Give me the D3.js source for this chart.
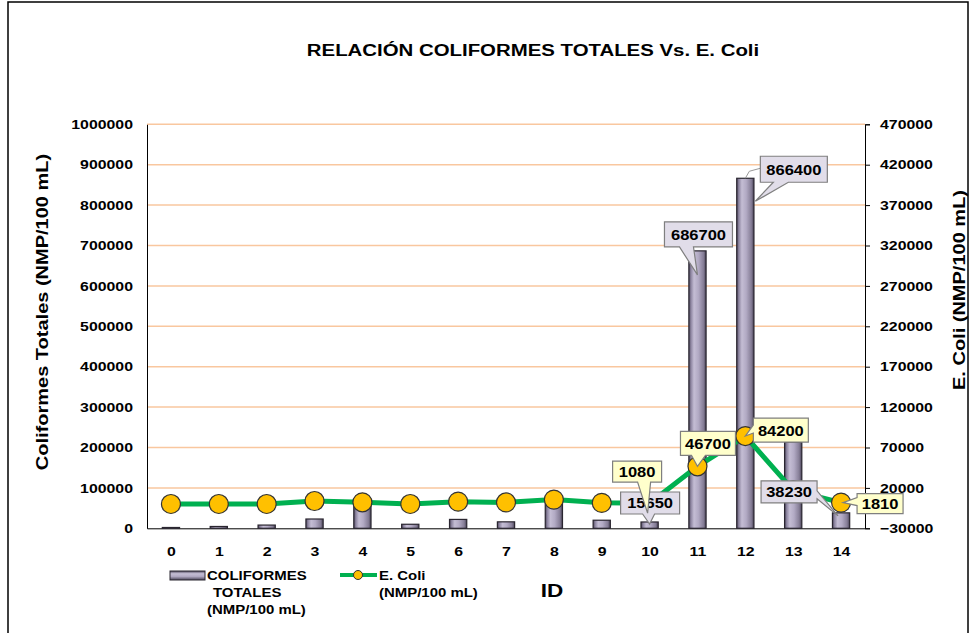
<!DOCTYPE html>
<html lang="es">
<head>
  <meta charset="UTF-8">
  <title>Relación Coliformes Totales Vs. E. Coli</title>
  <script src="https://d3js.org/d3.v7.min.js"></script>
  <style>
    body { margin: 0; padding: 0; background: #fff; }
    svg { display: block; font-family: 'Liberation Sans', Arial, sans-serif; font-weight: bold; }
  </style>
</head>
<body>
  <svg id="chart" width="972" height="633"></svg>
  <script>
    // datos
    const ids = [0, 1, 2, 3, 4, 5, 6, 7, 8, 9, 10, 11, 12, 13, 14];
    const coliformes = [2000, 4500, 8000, 23000, 65000, 10000, 22000, 16000, 70000, 20000, 15650, 686700, 866400, 214000, 38230];
    const eColi = [100, 100, 100, 3800, 2200, 100, 3000, 2000, 5500, 1500, 1080, 46700, 84200, 17000, 1810];
    const leftTicks = [0, 100000, 200000, 300000, 400000, 500000, 600000, 700000, 800000, 900000, 1000000];
    const rightTicks = [-30000, 20000, 70000, 120000, 170000, 220000, 270000, 320000, 370000, 420000, 470000];

    // etiquetas de datos visibles: indice, caja relativa al punto, cuña
    const calloutsC = [
      { i: 11, dx: -33, dy: -29, w: 68, h: 25, side: 'bottom', a: 15, b: 29, tx: 0, ty: 24 },
      { i: 12, dx: 15, dy: -22, w: 67, h: 26, side: 'bottom', a: 13, b: 28, tx: 10, ty: 23 },
      { i: 10, dx: -29, dy: -30, w: 59, h: 22, side: 'bottom', a: 22, b: 34, tx: 0, ty: 2 },
      { i: 14, dx: -80, dy: -32, w: 56, h: 22, side: 'right', a: 10, b: 18, tx: -3, ty: 3 }
    ];
    const calloutsE = [
      { i: 11, dx: -17, dy: -35, w: 55, h: 24, side: 'bottom', a: 11, b: 25, tx: 0, ty: 0 },
      { i: 12, dx: 8, dy: -18, w: 55, h: 24, side: 'left', a: 7, b: 15, tx: 0, ty: 0 },
      { i: 10, dx: -37, dy: -42, w: 49, h: 21, side: 'bottom', a: 25, b: 38, tx: -2, ty: 10 },
      { i: 14, dx: 16, dy: -9, w: 46, h: 20, side: 'left', a: 4, b: 12, tx: 2, ty: 0 }
    ];

    const SX = 1.22; // las letras del original salen mas anchas
    const svg = d3.select('#chart');
    const plotL = 147, plotR = 865, plotT = 124.3, plotB = 528.3;

    const x = d3.scalePoint().domain(ids).range([plotL, plotR]).padding(0.5);
    const yL = d3.scaleLinear().domain([0, 1000000]).range([plotB, plotT]);
    const yR = d3.scaleLinear().domain([-30000, 470000]).range([plotB, plotT]);
    const barW = x.step() * 0.36;

    const defs = svg.append('defs');
    const g1 = defs.append('linearGradient').attr('id', 'barGrad');
    [[0, '#4f485e'], [0.12, '#8d85a0'], [0.3, '#c4bdd4'], [0.55, '#b2aac4'], [0.85, '#857d96'], [1, '#4a4458']]
      .forEach(s => g1.append('stop').attr('offset', s[0]).attr('stop-color', s[1]));
    const g2 = defs.append('linearGradient').attr('id', 'barGradV')
      .attr('x1', 0).attr('y1', 0).attr('x2', 0).attr('y2', 1);
    [[0, '#4f485e'], [0.3, '#c4bdd4'], [0.6, '#b2aac4'], [1, '#4a4458']]
      .forEach(s => g2.append('stop').attr('offset', s[0]).attr('stop-color', s[1]));

    // marco
    svg.append('rect').attr('x', 8).attr('y', 2).attr('width', 960).attr('height', 660)
      .attr('fill', 'none').attr('stroke', '#000').attr('stroke-width', 1.5);

    const stext = (sel, px, py, str, size, anchor, sx) => sel.append('text')
      .attr('transform', `translate(${px},${py}) scale(${sx || SX},1)`)
      .attr('text-anchor', anchor || 'start')
      .attr('font-size', size)
      .attr('fill', '#000')
      .text(str);

    // titulo
    stext(svg, 533, 56, 'RELACIÓN COLIFORMES TOTALES Vs. E. Coli', 17, 'middle', 1.2);

    // lineas de division
    svg.append('g').selectAll('line')
      .data(leftTicks.filter(d => d > 0))
      .join('line')
      .attr('x1', plotL).attr('x2', plotR)
      .attr('y1', d => yL(d)).attr('y2', d => yL(d))
      .attr('stroke', '#f9c79f').attr('stroke-width', 1.5);

    // ejes
    const fixText = (g, size) => g.selectAll('text')
      .attr('font-size', size)
      .attr('fill', '#000')
      .attr('transform', `scale(${SX},1)`)
      .attr('x', function () { return +this.getAttribute('x') / SX; });

    const axL = svg.append('g').attr('transform', `translate(${plotL},0)`)
      .call(d3.axisLeft(yL).tickValues(leftTicks).tickSize(0).tickPadding(14).tickFormat(d3.format('d')));
    axL.select('.domain').attr('stroke', '#000');
    fixText(axL, 13);

    const axR = svg.append('g').attr('transform', `translate(${plotR},0)`)
      .call(d3.axisRight(yR).tickValues(rightTicks).tickSize(5).tickPadding(10).tickFormat(d3.format('d')));
    axR.select('.domain').attr('stroke', '#000');
    axR.selectAll('.tick line').attr('stroke', '#000');
    fixText(axR, 13);

    const axB = svg.append('g').attr('transform', `translate(0,${plotB})`)
      .call(d3.axisBottom(x).tickSize(0).tickPadding(18));
    axB.select('.domain').attr('stroke', '#000');
    fixText(axB, 13);

    // titulos de ejes
    stext(svg.append('g').attr('transform', 'translate(48,312) rotate(-90)'), 0, 0,
      'Coliformes Totales (NMP/100 mL)', 16, 'middle', 1.25);
    stext(svg.append('g').attr('transform', 'translate(965,290) rotate(-90)'), 0, 0,
      'E. Coli (NMP/100 mL)', 16, 'middle', 1.25);
    stext(svg, 552, 597, 'ID', 18, 'middle', 1.25);

    // barras
    svg.append('g').selectAll('rect')
      .data(coliformes)
      .join('rect')
      .attr('x', (d, i) => x(ids[i]) - barW / 2)
      .attr('y', d => yL(d))
      .attr('width', barW)
      .attr('height', d => yL(0) - yL(d))
      .attr('fill', 'url(#barGrad)')
      .attr('stroke', '#2a2630').attr('stroke-width', 1.2);

    // linea E. coli
    const line = d3.line().x((d, i) => x(ids[i])).y(d => yR(d));
    svg.append('path').datum(eColi)
      .attr('d', line)
      .attr('fill', 'none')
      .attr('stroke', '#00b050').attr('stroke-width', 5);

    svg.append('g').selectAll('circle')
      .data(eColi)
      .join('circle')
      .attr('cx', (d, i) => x(ids[i]))
      .attr('cy', d => yR(d))
      .attr('r', 9.5)
      .attr('fill', '#ffc000')
      .attr('stroke', '#333').attr('stroke-width', 1.2);

    // etiquetas tipo globo
    const calloutPath = (bx, by, w, h, c, tx, ty) => {
      if (c.side === 'bottom')
        return `M${bx},${by}H${bx + w}V${by + h}H${bx + c.b}L${tx},${ty}L${bx + c.a},${by + h}H${bx}Z`;
      if (c.side === 'left')
        return `M${bx},${by}H${bx + w}V${by + h}H${bx}V${by + c.b}L${tx},${ty}L${bx},${by + c.a}Z`;
      return `M${bx},${by}H${bx + w}V${by + c.a}L${tx},${ty}L${bx + w},${by + c.b}V${by + h}H${bx}Z`;
    };

    const drawCallouts = (list, values, yScale, fill) => {
      list.forEach(c => {
        const px = x(ids[c.i]), py = yScale(values[c.i]);
        const bx = px + c.dx, by = py + c.dy;
        svg.append('path')
          .attr('d', calloutPath(bx, by, c.w, c.h, c, px + c.tx, py + c.ty))
          .attr('fill', fill).attr('stroke', '#7f7f7f').attr('stroke-width', 1.2);
        stext(svg, bx + c.w / 2, by + c.h / 2 + 5.5, d3.format('d')(values[c.i]), 15, 'middle', 1.1);
      });
    };

    // guia fina del 866400
    svg.append('polyline')
      .attr('points', `${x(12)},${yL(866400)} ${x(12) + 4},${yL(866400) - 7} ${x(12) + 15},${yL(866400) - 10}`)
      .attr('fill', 'none').attr('stroke', '#999').attr('stroke-width', 1);

    drawCallouts(calloutsC, coliformes, yL, '#e1dde9');
    drawCallouts(calloutsE, eColi, yR, '#ffffcc');

    // leyenda
    svg.append('rect').attr('x', 170).attr('y', 571).attr('width', 35).attr('height', 9)
      .attr('fill', 'url(#barGradV)').attr('stroke', '#2a2630').attr('stroke-width', 1);
    stext(svg, 207, 579.5, 'COLIFORMES', 13, 'start', 1.15);
    stext(svg, 213, 597, 'TOTALES', 13, 'start', 1.15);
    stext(svg, 207, 614, '(NMP/100 mL)', 13, 'start', 1.15);

    svg.append('line').attr('x1', 340).attr('x2', 377).attr('y1', 575).attr('y2', 575)
      .attr('stroke', '#00b050').attr('stroke-width', 4);
    svg.append('circle').attr('cx', 358).attr('cy', 575).attr('r', 4.5)
      .attr('fill', '#ffc000').attr('stroke', '#333').attr('stroke-width', 1);
    stext(svg, 379, 579.5, 'E. Coli', 13, 'start', 1.15);
    stext(svg, 379, 597, '(NMP/100 mL)', 13, 'start', 1.15);
  </script>
</body>
</html>
